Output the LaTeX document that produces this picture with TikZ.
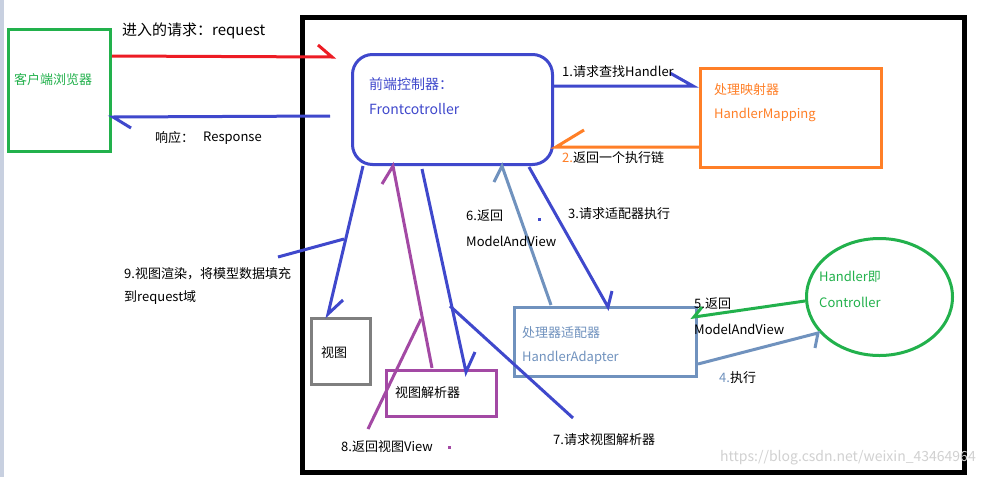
\documentclass[tikz,border=0pt]{standalone}
\usepackage{fontspec}
\setmainfont{Noto Sans CJK SC}
\usetikzlibrary{shapes.geometric}
\definecolor{myblue}{RGB}{63,72,204}
\definecolor{myred}{RGB}{237,28,36}
\definecolor{mygreen}{RGB}{34,177,76}
\definecolor{myorange}{RGB}{255,127,39}
\definecolor{mypurple}{RGB}{163,73,164}
\definecolor{mysteel}{RGB}{112,146,190}
\definecolor{mygray}{RGB}{127,127,127}
\definecolor{stripe}{RGB}{200,208,224}
\tikzset{
  boxnode/.style={draw, line width=3pt, inner sep=0pt},
  txt/.style={anchor=west, inner sep=0pt, font=\fontsize{13}{15}\selectfont},
  bigtxt/.style={anchor=west, inner sep=0pt, font=\fontsize{14}{16}\selectfont},
  conn/.style={line width=3pt},
}
\begin{document}
\begin{tikzpicture}[x=1pt,y=-1pt]
\useasboundingbox (0,0) rectangle (1001,477);
\fill[white] (0,0) rectangle (1001,477);
\fill[stripe] (0,0) rectangle (4,477);
% frame
\draw[line width=5pt] (302.5,17) rectangle (964.5,472.5);
% boxes
\node[boxnode, draw=mygreen, minimum width=102pt, minimum height=122pt] (client) at (59.5,90.5) {};
\node[boxnode, draw=myblue, rounded corners=20pt, minimum width=200pt, minimum height=110pt] (fc) at (452.5,109.5) {};
\node[boxnode, draw=myorange, minimum width=181pt, minimum height=99pt] (hm) at (791,118) {};
\node[boxnode, draw=mysteel, minimum width=182pt, minimum height=69pt] (ha) at (605.5,342) {};
\node[boxnode, draw=mygray, minimum width=59pt, minimum height=66pt] (view) at (341,351.5) {};
\node[boxnode, draw=mypurple, minimum width=110pt, minimum height=46pt] (vr) at (441.5,393.5) {};
\node[boxnode, draw=mygreen, ellipse, minimum width=146pt, minimum height=117pt] (ctl) at (879.5,297) {};
% coordinates
\coordinate (r1) at (112,56); \coordinate (r2) at (332,57); \coordinate (rb) at (318,45);
\coordinate (p1) at (330,116); \coordinate (p2) at (113,117); \coordinate (pb) at (131,128);
\coordinate (a1s) at (554,86); \coordinate (a1e) at (693,86); \coordinate (a1b) at (670,73);
\coordinate (a2s) at (699,147); \coordinate (a2e) at (556,147); \coordinate (a2b) at (584,130);
\coordinate (a9s) at (363,166); \coordinate (a9e) at (328,314); \coordinate (a9b) at (343,300);
\coordinate (l9a) at (278,257); \coordinate (l9b) at (344,239);
\coordinate (a8s) at (432,368); \coordinate (a8e) at (393,166); \coordinate (a8b) at (382,184);
\coordinate (l8a) at (368,429); \coordinate (l8b) at (421,319);
\coordinate (a7s) at (422,169); \coordinate (a7e) at (466,372); \coordinate (a7b) at (475,352);
\coordinate (l7a) at (450,306); \coordinate (l7b) at (573,418);
\coordinate (a6s) at (551,305); \coordinate (a6e) at (502,166); \coordinate (a6b) at (494,182);
\coordinate (a3s) at (529,167); \coordinate (a3e) at (608,307); \coordinate (a3b) at (612,291);
\coordinate (a5s) at (805,301); \coordinate (a5e) at (694,317); \coordinate (a5b) at (702,307);
\coordinate (a4s) at (698,364); \coordinate (a4e) at (818,333); \coordinate (a4b) at (815,348);
% connectors
\draw[conn, myred] (r1) -- (r2) -- (rb);
\draw[conn, myblue] (p1) -- (p2) -- (pb);
\draw[conn, myblue] (a1s) -- (a1e) -- (a1b);
\draw[conn, myorange] (a2s) -- (a2e) -- (a2b);
\draw[conn, myblue] (a9s) -- (a9e) -- (a9b);
\draw[conn, myblue] (l9a) -- (l9b);
\draw[conn, mypurple] (a8s) -- (a8e) -- (a8b);
\draw[conn, mypurple] (l8a) -- (l8b);
\draw[conn, myblue] (a7s) -- (a7e) -- (a7b);
\draw[conn, myblue] (l7a) -- (l7b);
\draw[conn, mysteel] (a6s) -- (a6e) -- (a6b);
\draw[conn, myblue] (a3s) -- (a3e) -- (a3b);
\draw[conn, mygreen] (a5s) -- (a5e) -- (a5b);
\draw[conn, mysteel] (a4s) -- (a4e) -- (a4b);
% dots
\fill[myblue] (537.5,217.5) rectangle (540.5,220.5);
\fill[mypurple] (447.5,445.5) rectangle (450.5,448.5);
% texts
\node[txt, font=\fontsize{15}{17}\selectfont] (t0) at (122,31) {进入的请求：request};
\node[txt, text=mygreen] (tc) at (14,80) {客户端浏览器};
\node[txt] (tr1) at (155,138) {响应：};
\node[txt] (tr2) at (203,138) {Response};
\node[bigtxt, text=myblue] (tf1) at (369,84) {前端控制器：};
\node[bigtxt, text=myblue] (tf2) at (369,109) {Frontcotroller};
\node[txt] (t1) at (562,72) {1.请求查找Handler};
\node[txt, text=myorange] (th1) at (714,90) {处理映射器};
\node[txt, text=myorange] (th2) at (714,115) {HandlerMapping};
\node[txt] (t2) at (562,158) {\textcolor{myorange}{2.}返回一个执行链};
\node[txt] (t6a) at (466,216) {6.返回};
\node[txt] (t6b) at (466,241) {ModelAndView};
\node[txt] (t3) at (568,214) {3.请求适配器执行};
\node[txt] (t9a) at (124,274) {9.视图渲染，将模型数据填充};
\node[txt] (t9b) at (124,298) {到request域};
\node[txt] (tv) at (321,353) {视图};
\node[txt] (tvr) at (395,393) {视图解析器};
\node[txt] (t8) at (341,447) {8.返回视图View};
\node[txt] (t7) at (553,440) {7.请求视图解析器};
\node[txt, text=mysteel] (ta1) at (522,333) {处理器适配器};
\node[txt, text=mysteel] (ta2) at (522,358) {HandlerAdapter};
\node[txt] (t5a) at (694,304) {5.返回};
\node[txt] (t5b) at (694,329) {ModelAndView};
\node[txt] (t4) at (719,378) {\textcolor{mysteel}{4.}执行};
\node[txt, text=mygreen] (tk1) at (819,277) {Handler即};
\node[txt, text=mygreen] (tk2) at (819,302) {Controller};
\node[txt, text=black!18, font=\fontsize{14}{16}\selectfont] (wm) at (720,458) {https://blog.csdn.net/weixin\_43464964};
\end{tikzpicture}
\end{document}
